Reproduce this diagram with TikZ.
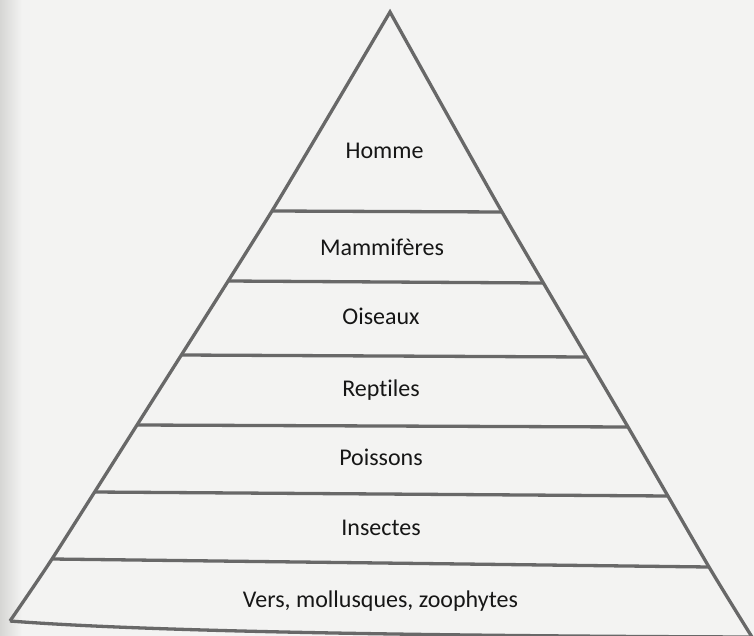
\documentclass[tikz,border=0pt]{standalone}
\usepackage{fontspec}
\setmainfont{Carlito}[Ligatures=NoCommon]
\usetikzlibrary{calc}
\definecolor{linegray}{RGB}{104,104,104}
\definecolor{paper}{RGB}{243,243,242}
\definecolor{paperdark}{RGB}{214,214,212}
\definecolor{inkblack}{RGB}{22,22,22}
\begin{document}
\begin{tikzpicture}[x=1pt,y=-1pt,
  edge/.style={draw=linegray,line width=3.3pt,line join=miter},
  rung/.style={draw=linegray,line width=3.3pt},
  lbl/.style={anchor=base,text=inkblack,font=\fontsize{24}{28}\selectfont,inner sep=0pt}]
\fill[paper] (0,0) rectangle (754,636);
\shade[left color=paperdark,right color=paper] (0,0) rectangle (22,636);
\useasboundingbox (0,0) rectangle (754,636);
% corners
\coordinate (apex) at (390,12);
\coordinate (bl) at (10,621);
\coordinate (br) at (752,637);
% rung ends on the left and right edges
\coordinate (l1) at (272,211);   \coordinate (r1) at (502,212);
\coordinate (l2) at (228,281);   \coordinate (r2) at (544,283);
\coordinate (l3) at (181,355);   \coordinate (r3) at (587,357);
\coordinate (l4) at (137,425);   \coordinate (r4) at (628,427);
\coordinate (l5) at (94,492);    \coordinate (r5) at (668,496);
\coordinate (l6) at (52,559);    \coordinate (r6) at (709,567);
% outline
\draw[edge] plot[smooth,tension=0.35] coordinates {(bl) (l6) (l4) (l1) (apex)}
  -- plot[smooth,tension=0.35] coordinates {(apex) (r1) (r4) (r6) (br)};
\draw[edge] (bl) .. controls (150,632) and (450,636) .. (br);
\foreach \i in {1,...,6}{
  \draw[rung] (l\i) -- (r\i);
}
\node[lbl] (homme) at (384.5,159) {Homme};
\node[lbl] (mamm) at (382,255) {Mammifères};
\node[lbl] (ois) at (381,324) {Oiseaux};
\node[lbl] (rept) at (381,396) {Reptiles};
\node[lbl] (pois) at (381,465) {Poissons};
\node[lbl] (ins) at (381,535) {Insectes};
\node[lbl] (vers) at (380.5,607) {Vers, mollusques, zoophytes};
\end{tikzpicture}
\end{document}
